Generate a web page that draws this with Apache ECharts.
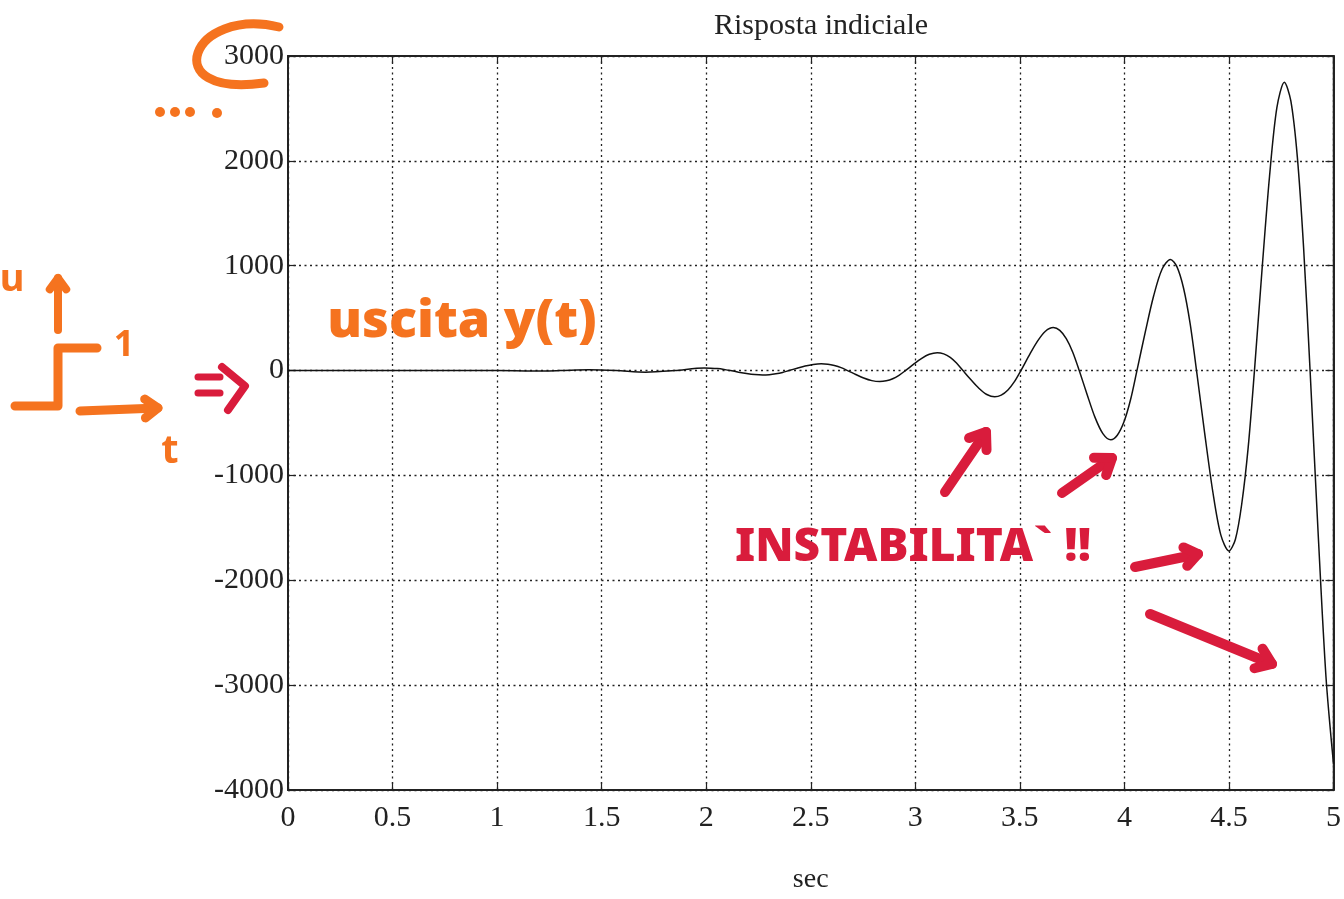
<!DOCTYPE html>
<html>
<head>
<meta charset="utf-8">
<script src="https://cdn.jsdelivr.net/npm/echarts@6/dist/echarts.min.js"></script>
<style>
html,body{margin:0;padding:0;background:#fff;}
#chart{width:1344px;height:899px;}
</style>
</head>
<body>
<div id="chart"></div>
<script>
// ---- data ----
const timeSec = [0, 0.5, 1.0, 1.17, 1.3, 1.44, 1.57, 1.71, 1.85,
  1.99, 2.022, 2.053, 2.085, 2.116, 2.155, 2.193, 2.232,
  2.27, 2.302, 2.333, 2.365, 2.396, 2.435, 2.473, 2.512,
  2.55, 2.582, 2.613, 2.645, 2.676, 2.715, 2.753, 2.792,
  2.83, 2.861, 2.892, 2.922, 2.953, 2.991, 3.029, 3.067,
  3.105, 3.136, 3.167, 3.197, 3.228, 3.266, 3.304, 3.342,
  3.38, 3.411, 3.443, 3.474, 3.505, 3.544, 3.583, 3.621,
  3.66, 3.691, 3.722, 3.753, 3.784, 3.822, 3.859, 3.897,
  3.935, 3.966, 3.998, 4.029, 4.06, 4.10, 4.14, 4.18,
  4.22, 4.251, 4.283, 4.314, 4.345, 4.384, 4.423, 4.461,
  4.50, 4.531, 4.561, 4.592, 4.622, 4.658, 4.694, 4.729,
  4.765, 4.796, 4.827, 4.857, 4.888, 4.926, 4.964, 5.0];
const outputY = [0, 0, 0, -4, 0, 7, 0, -15, 0,
  25, 23, 19, 11, 0, -15, -28, -38,
  -42, -39, -31, -18, 0, 23, 44, 59,
  65, 61, 48, 28, 0, -37, -71, -96,
  -105, -98, -78, -45, 0, 59, 114, 155,
  170, 159, 126, 72, 0, -87, -168, -228,
  -250, -234, -185, -106, 0, 143, 276, 373,
  410, 383, 304, 175, 0, -230, -444, -601,
  -660, -617, -489, -281, 0, 369, 713, 966,
  1060, 991, 785, 452, 0, -599, -1158, -1567,
  -1720, -1608, -1275, -733, 0, 957, 1851, 2505,
  2750, 2571, 2038, 1172, 0, -1530, -2920, -3750];
const xTicks = {min: 0, max: 5, step: 0.5};
const yTicks = {min: -4000, max: 3000, step: 1000};
const titleText = 'Risposta indiciale';
const xName = 'sec';
const noteOut = 'uscita y(t)';
const noteInst = 'INSTABILITA` !!';

const pts = timeSec.map((t, i) => [t, outputY[i]]);
const serif = "'Liberation Serif', 'DejaVu Serif', serif";
const ORANGE = '#f5731f';
const RED = '#d91c3c';

const chart = echarts.init(document.getElementById('chart'), null, {renderer: 'canvas'});

function arrowHead(x, y, ang, len, color, w) {
  const a1 = ang + Math.PI * 0.8, a2 = ang - Math.PI * 0.8;
  return {
    type: 'polyline', z: 100,
    shape: {points: [[x + len * Math.cos(a1), y + len * Math.sin(a1)], [x, y], [x + len * Math.cos(a2), y + len * Math.sin(a2)]]},
    style: {stroke: color, lineWidth: w, fill: null, lineCap: 'round', lineJoin: 'round'}
  };
}
function arrow(x1, y1, x2, y2, color, w, hl) {
  const ang = Math.atan2(y2 - y1, x2 - x1);
  return [
    {type: 'line', z: 100, shape: {x1, y1, x2, y2}, style: {stroke: color, lineWidth: w, lineCap: 'round'}},
    arrowHead(x2, y2, ang, hl, color, w)
  ];
}

const hand = "'Noto Sans', 'DejaVu Sans', sans-serif";
const graphics = [
  // orange "C" around 3000 and dots
  {type: 'bezierCurve', z: 100, shape: {x1: 279, y1: 27, cpx1: 192, cpy1: 6, cpx2: 155, cpy2: 98, x2: 264, y2: 83},
   style: {stroke: ORANGE, lineWidth: 9, fill: null, lineCap: 'round'}},
  {type: 'circle', z: 100, shape: {cx: 160, cy: 112, r: 5}, style: {fill: ORANGE}},
  {type: 'circle', z: 100, shape: {cx: 175, cy: 112, r: 5}, style: {fill: ORANGE}},
  {type: 'circle', z: 100, shape: {cx: 190, cy: 112, r: 5}, style: {fill: ORANGE}},
  {type: 'circle', z: 100, shape: {cx: 217, cy: 113, r: 5}, style: {fill: ORANGE}},
  // step sketch
  {type: 'text', z: 100, style: {text: 'u', x: 12, y: 280, fill: ORANGE, font: "bold 38px " + hand, textAlign: 'center', textVerticalAlign: 'middle'}},
  ...arrow(58, 330, 58, 278, ORANGE, 8, 14),
  {type: 'polyline', z: 100, shape: {points: [[15, 406], [58, 406], [58, 348], [97, 348]]},
   style: {stroke: ORANGE, lineWidth: 9, fill: null, lineCap: 'round', lineJoin: 'round'}},
  {type: 'text', z: 100, style: {text: '1', x: 124, y: 346, fill: ORANGE, font: "bold 36px " + hand, textAlign: 'center', textVerticalAlign: 'middle'}},
  ...arrow(80, 411, 158, 408, ORANGE, 9, 16),
  {type: 'text', z: 100, style: {text: 't', x: 170, y: 452, fill: ORANGE, font: "bold 40px " + hand, textAlign: 'center', textVerticalAlign: 'middle'}},
  // red double arrow
  {type: 'line', z: 100, shape: {x1: 198, y1: 377, x2: 220, y2: 377}, style: {stroke: RED, lineWidth: 7, lineCap: 'round'}},
  {type: 'line', z: 100, shape: {x1: 198, y1: 393, x2: 220, y2: 393}, style: {stroke: RED, lineWidth: 7, lineCap: 'round'}},
  {type: 'polyline', z: 100, shape: {points: [[222, 367], [245, 386], [228, 410]]}, style: {stroke: RED, lineWidth: 8, fill: null, lineCap: 'round', lineJoin: 'round'}},
  // notes
  {type: 'text', z: 100, style: {text: noteOut, x: 462, y: 322, fill: ORANGE, font: "900 52px " + hand, textAlign: 'center', textVerticalAlign: 'middle'}},
  {type: 'text', z: 100, style: {text: noteInst, x: 913, y: 548, fill: RED, font: "900 46px " + hand, textAlign: 'center', textVerticalAlign: 'middle'}},
  // red arrows
  ...arrow(945, 492, 986, 432, RED, 10, 18),
  ...arrow(1062, 493, 1112, 458, RED, 10, 18),
  ...arrow(1135, 567, 1198, 554, RED, 10, 16),
  ...arrow(1150, 614, 1272, 664, RED, 10, 18)
];

const plain = v => String(v);

const option = {
  backgroundColor: '#ffffff',
  animation: false,
  title: {
    text: titleText, left: 816, top: 6, textAlign: 'center',
    textStyle: {fontFamily: serif, fontWeight: 'normal', fontSize: 30, color: '#222'}
  },
  grid: {left: 288, right: 6, top: 56, bottom: 99, show: true, borderColor: '#222', borderWidth: 1.5, backgroundColor: 'transparent'},
  xAxis: [{
    type: 'value', min: xTicks.min, max: xTicks.max, interval: xTicks.step, position: 'bottom',
    name: xName, nameLocation: 'middle', nameGap: 76,
    nameTextStyle: {fontFamily: serif, fontSize: 28, color: '#222'},
    axisLine: {show: true, onZero: false, lineStyle: {color: '#222', width: 2}},
    axisTick: {show: true, inside: true, length: 8, lineStyle: {color: '#222', width: 1.2}},
    axisLabel: {fontFamily: serif, fontSize: 30, color: '#222', margin: 13, formatter: plain},
    splitLine: {show: true, lineStyle: {color: '#222', type: [2, 3.5], width: 1.3}}
  }, {
    type: 'value', min: xTicks.min, max: xTicks.max, interval: xTicks.step, position: 'top',
    axisLine: {show: true, onZero: false, lineStyle: {color: '#222', width: 2}},
    axisTick: {show: true, inside: true, length: 8, lineStyle: {color: '#222', width: 1.2}},
    axisLabel: {show: false}, splitLine: {show: false}
  }],
  yAxis: [{
    type: 'value', min: yTicks.min, max: yTicks.max, interval: yTicks.step, position: 'left',
    axisLine: {show: true, onZero: false, lineStyle: {color: '#222', width: 2}},
    axisTick: {show: true, inside: true, length: 8, lineStyle: {color: '#222', width: 1.2}},
    axisLabel: {fontFamily: serif, fontSize: 30, color: '#222', margin: 4, formatter: plain},
    splitLine: {show: true, lineStyle: {color: '#222', type: [2, 3.5], width: 1.3}}
  }, {
    type: 'value', min: yTicks.min, max: yTicks.max, interval: yTicks.step, position: 'right',
    axisLine: {show: true, onZero: false, lineStyle: {color: '#222', width: 2}},
    axisTick: {show: true, inside: true, length: 8, lineStyle: {color: '#222', width: 1.2}},
    axisLabel: {show: false}, splitLine: {show: false}
  }],
  series: [{
    type: 'line', data: pts, xAxisIndex: 0, yAxisIndex: 0,
    smooth: 0.3, symbol: 'none', clip: true,
    lineStyle: {color: '#111', width: 1.5}
  }],
  graphic: graphics
};
chart.setOption(option);
</script>
</body>
</html>
